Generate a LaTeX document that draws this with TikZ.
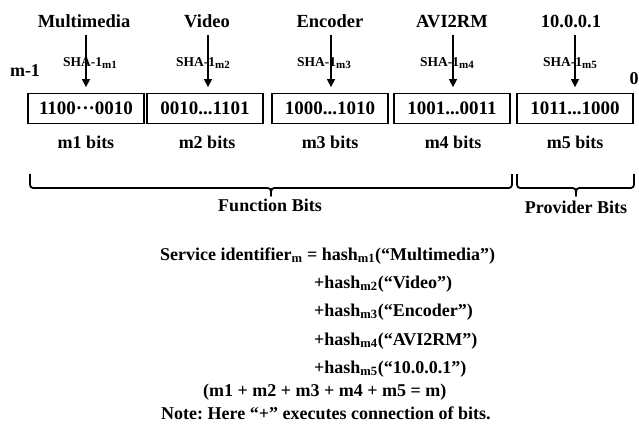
\documentclass[tikz,border=0pt]{standalone}
\usepackage{fontspec}
\setmainfont{Liberation Serif}
\usetikzlibrary{arrows.meta}
\newcommand\shasub[1]{\raisebox{-0.3ex}{\fontsize{11}{12}\selectfont #1}}
\begin{document}
\frenchspacing
\begin{tikzpicture}[x=1pt,y=-1pt,
  ttl/.style={font=\fontsize{18.5}{20}\selectfont\bfseries, inner sep=0, anchor=base},
  bx/.style={draw, line width=1.8pt, minimum width=116pt, minimum height=30pt, inner sep=0, font=\fontsize{19}{20}\selectfont\bfseries},
  sha/.style={font=\fontsize{13.5}{14}\selectfont\bfseries, inner sep=0, anchor=base west},
  bits/.style={font=\fontsize{18}{20}\selectfont\bfseries, inner sep=0, anchor=base},
  eq/.style={font=\fontsize{18}{20}\selectfont\bfseries, inner sep=0, anchor=base west},
  arr/.style={line width=1.5pt, -{Triangle[length=8pt,width=8pt]}, shorten >=5.5pt},
  brc/.style={line width=1.8pt, line join=round}]
\useasboundingbox (0,0) rectangle (639,437);

% titles
\node[ttl] (t1) at (84,27.5) {Multimedia};
\node[ttl] (t2) at (207,27.5) {Video};
\node[ttl] (t3) at (330,27.5) {Encoder};
\node[ttl] (t4) at (452,27.5) {AVI2RM};
\node[ttl] (t5) at (571,27.5) {10.0.0.1};

% boxes
\node[bx] (b1) at (86,108.5) {1100···0010};
\node[bx] (b2) at (205,108.5) {0010...1101};
\node[bx] (b3) at (330,108.5) {1000...1010};
\node[bx] (b4) at (452,108.5) {1001...0011};
\node[bx] (b5) at (575,108.5) {1011...1000};

% arrows
\coordinate (s1) at (86,35);
\coordinate (s2) at (208,35);
\coordinate (s3) at (331,35);
\coordinate (s4) at (453,35);
\coordinate (s5) at (575,35);
\draw[arr] (s1) -- (s1 |- b1.north);
\draw[arr] (s2) -- (s2 |- b2.north);
\draw[arr] (s3) -- (s3 |- b3.north);
\draw[arr] (s4) -- (s4 |- b4.north);
\draw[arr] (s5) -- (s5 |- b5.north);

% SHA labels
\node[sha] (h1) at (63,66.5) {SHA-1\shasub{m1}};
\node[sha] (h2) at (176,66.5) {SHA-1\shasub{m2}};
\node[sha] (h3) at (297,66.5) {SHA-1\shasub{m3}};
\node[sha] (h4) at (420,66.5) {SHA-1\shasub{m4}};
\node[sha] (h5) at (543,66.5) {SHA-1\shasub{m5}};

\node[bits] (mm1) at (25,76) {m-1};
\node[bits] (zero) at (634,84) {0};

% bits labels
\node[bits] (l1) at (86,148) {m1 bits};
\node[bits] (l2) at (207,148) {m2 bits};
\node[bits] (l3) at (330,148) {m3 bits};
\node[bits] (l4) at (453,148) {m4 bits};
\node[bits] (l5) at (575,148) {m5 bits};

% braces
\draw[brc] (30,174) -- (30,181) .. controls (30,188) .. (37,188) -- (264,188)
  .. controls (271,188) .. (271,196) .. controls (271,188) .. (278,188) -- (505,188)
  .. controls (512,188) .. (512,181) -- (512,174);
\draw[brc] (517,174) -- (517,181) .. controls (517,188) .. (524,188) -- (569,188)
  .. controls (576,188) .. (576,196) .. controls (576,188) .. (583,188) -- (627,188)
  .. controls (634,188) .. (634,181) -- (634,174);
\node[bits] (fbits) at (270,211) {Function Bits};
\node[bits] (pbits) at (576,213) {Provider Bits};

% formula
\node[eq] (e1) at (160,260) {Service identifier\textsubscript{m} = hash\textsubscript{m1}(“Multimedia”)};
\node[eq] (e2) at (314,288) {+hash\textsubscript{m2}(“Video”)};
\node[eq] (e3) at (314,316) {+hash\textsubscript{m3}(“Encoder”)};
\node[eq] (e4) at (314,345) {+hash\textsubscript{m4}(“AVI2RM”)};
\node[eq] (e5) at (314,373) {+hash\textsubscript{m5}(“10.0.0.1”)};
\node[eq] (e6) at (203,396) {(m1 + m2 + m3 + m4 + m5 = m)};
\node[eq] (e7) at (161,419) {Note: Here “+” executes connection of bits.};
\end{tikzpicture}
\end{document}
